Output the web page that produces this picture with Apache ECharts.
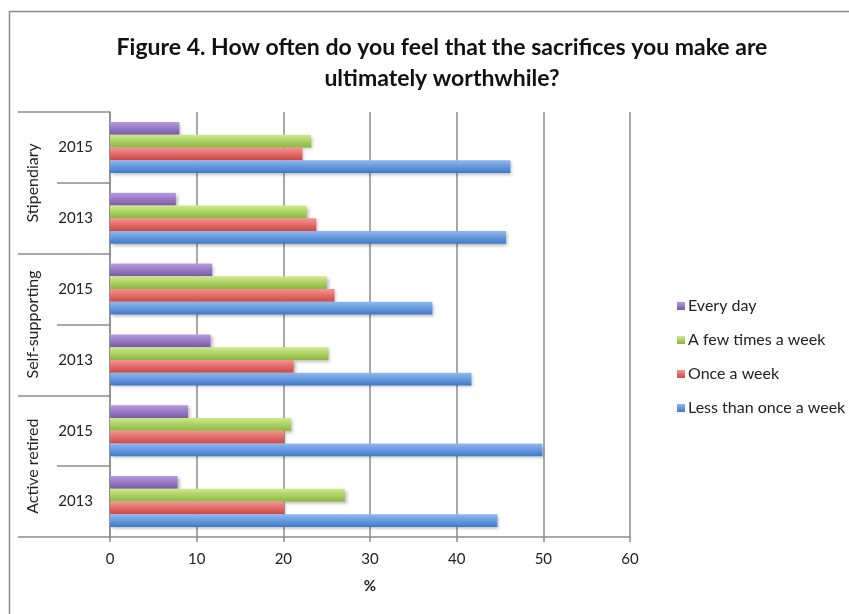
<!DOCTYPE html>
<html>
<head>
<meta charset="utf-8">
<script src="https://cdn.jsdelivr.net/npm/echarts@6/dist/echarts.min.js"></script>
<style>
  html, body { margin: 0; padding: 0; background: #fff; }
  #chart { width: 849px; height: 614px; }
</style>
</head>
<body>
<div id="chart"></div>
<script>
  // 分组 / 年份（自下而上）
  const groups = ['Active retired', 'Self-supporting', 'Stipendiary']
  const years = ['2013', '2015', '2013', '2015', '2013', '2015']
  const xTicks = [0, 10, 20, 30, 40, 50, 60]

  // 各系列数值（%）
  const lessThanWeek = [44.7, 49.9, 41.7, 37.2, 45.7, 46.2]
  const onceWeek     = [20.1, 20.1, 21.2, 25.9, 23.8, 22.2]
  const fewTimes     = [27.1, 20.9, 25.2, 25.0, 22.7, 23.2]
  const everyDay     = [7.8, 9.0, 11.6, 11.8, 7.6, 8.0]

  const font = 'Lato, "Open Sans", sans-serif'
  const gray = '#8c8c8c'

  // 带渐变的柱子样式
  let barStyle = (light, dark) => ({
    color: new echarts.graphic.LinearGradient(0, 0, 0, 1, [
      { offset: 0, color: light },
      { offset: 1, color: dark }
    ]),
    shadowColor: 'rgba(0,0,0,0.25)',
    shadowBlur: 3,
    shadowOffsetX: 2,
    shadowOffsetY: 2
  })

  let bar = (name, data, light, dark) => ({
    name, type: 'bar', data,
    yAxisIndex: 0,
    barWidth: 12.75,
    barGap: '0%',
    itemStyle: barStyle(light, dark)
  })

  const chart = echarts.init(document.getElementById('chart'))
  chart.setOption({
    animation: false,
    textStyle: { fontFamily: font },
    graphic: [{
      type: 'rect',
      shape: { x: 9.5, y: 11.5, width: 900, height: 700 },
      style: { fill: 'none', stroke: gray, lineWidth: 1.5 },
      silent: true
    }],
    title: {
      text: 'Figure 4. How often do you feel that the sacrifices you make are\nultimately worthwhile?',
      left: 437, top: 27, textAlign: 'center',
      textStyle: { fontFamily: font, fontSize: 23, fontWeight: 'bold', color: '#111', lineHeight: 31 }
    },
    legend: {
      orient: 'vertical',
      left: 672, top: 293,
      itemWidth: 8, itemHeight: 8,
      itemGap: 18,
      icon: 'rect',
      data: ['Every day', 'A few times a week', 'Once a week', 'Less than once a week'],
      textStyle: { fontFamily: font, fontSize: 16, color: '#222', padding: [0, 0, 0, -2] }
    },
    grid: { left: 110, right: 219, top: 112, bottom: 77 },
    xAxis: {
      type: 'value', min: 0, max: 60, interval: 10,
      name: '%', nameLocation: 'middle', nameGap: 42,
      nameTextStyle: { fontFamily: font, fontSize: 15, fontWeight: 'bold', color: '#222' },
      axisLine: { show: true, lineStyle: { color: gray, width: 1.5 } },
      axisTick: { show: true, length: 5, lineStyle: { color: gray, width: 1.5 } },
      axisLabel: { fontSize: 15, color: '#222', margin: 15, formatter: v => xTicks.includes(v) ? v : '' },
      splitLine: { lineStyle: { color: gray, width: 1.5 } }
    },
    yAxis: [{
      type: 'category', data: years,
      axisLine: { show: true, lineStyle: { color: gray, width: 1.5 } },
      axisTick: { show: true, length: 53, lineStyle: { color: gray, width: 1.5 } },
      axisLabel: { fontSize: 15, color: '#222', margin: 17 }
    }, {
      type: 'category', data: groups, position: 'left', offset: 53,
      axisLine: { show: false },
      axisTick: { show: true, length: 39, lineStyle: { color: gray, width: 1.5 } },
      axisLabel: { fontSize: 16, color: '#222', rotate: 90, margin: 16 }
    }],
    series: [
      bar('Every day', everyDay, '#b49ade', '#7a5aa8'),
      bar('A few times a week', fewTimes, '#cdeb8a', '#8cb640'),
      bar('Once a week', onceWeek, '#f59490', '#cf4643'),
      bar('Less than once a week', lessThanWeek, '#8fb8f0', '#3f79c9')
    ]
  })
</script>
</body>
</html>
